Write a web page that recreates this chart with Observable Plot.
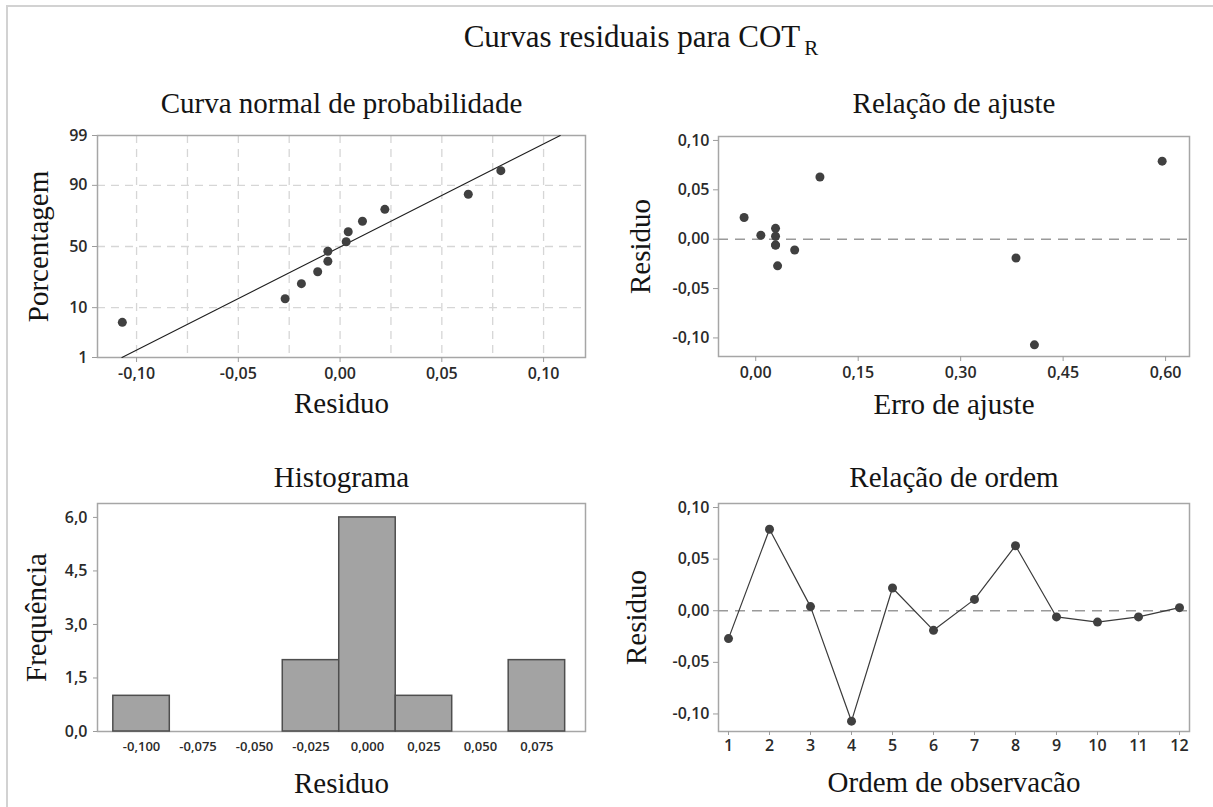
<!DOCTYPE html>
<html>
<head>
<meta charset="utf-8">
<script src="https://cdn.jsdelivr.net/npm/d3@7"></script>
<script src="https://cdn.jsdelivr.net/npm/@observablehq/plot@0.6"></script>
<style>
  body { margin: 0; background: #fff; }
  #page { position: relative; width: 1213px; height: 807px; overflow: hidden; background: #fff; }
  #edge { position: absolute; left: 6px; top: 5px; width: 1300px; height: 900px;
          border-top: 2px solid #d2d2d2; border-left: 2px solid #d2d2d2; }
  #title { position: absolute; left: 641px; top: 19px; transform: translateX(-50%);
           font-family: "Liberation Serif", "Times New Roman", serif; font-size: 31px;
           color: #141414; white-space: nowrap; line-height: 36px; }
  #title sub { font-size: 21px; vertical-align: -8px; margin-left: 4px; }
  .panel { position: absolute; }
  .panel g[aria-label="x-axis tick"], .panel g[aria-label="y-axis tick"] { stroke: #9c9c9c; }
  .panel g[aria-label="x-axis tick label"], .panel g[aria-label="y-axis tick label"] { fill: #2a2a2a; }
  .hist g[aria-label="x-axis tick label"] { font-size: 13px; }
</style>
</head>
<body>
<div id="page">
  <div id="edge"></div>
  <div id="title">Curvas residuais para COT<sub>R</sub></div>
</div>
<script>
// Residuals of the 12 observations, in observation order
const observation = [1, 2, 3, 4, 5, 6, 7, 8, 9, 10, 11, 12];
const residuals = [-0.027, 0.079, 0.004, -0.107, 0.022, -0.019, 0.011, 0.063, -0.006, -0.011, -0.006, 0.003];
// Fitted values ("Erro de ajuste") for the same observations
const fittedValues = [0.032, 0.595, 0.0075, 0.408, -0.017, 0.381, 0.029, 0.094, 0.029, 0.057, 0.029, 0.029];
// Normal probability plotting positions (%) for the sorted residuals
const normalPercent = [5.6, 13.7, 21.8, 29.8, 37.9, 46.0, 54.0, 62.1, 70.2, 78.2, 86.3, 94.4];
// Histogram bins (centres) and counts
const binCenters = [-0.100, -0.075, -0.050, -0.025, 0.000, 0.025, 0.050, 0.075];
const binCounts = [1, 0, 0, 2, 6, 1, 0, 2];
const binWidth = 0.025;
// Tick values
const pctTicks = [1, 10, 50, 90, 99];
const pctGrid = [10, 50, 90];
const normalXTicks = [-0.10, -0.05, 0.00, 0.05, 0.10];
const normalXGrid = [-0.100, -0.075, -0.050, -0.025, 0.000, 0.025, 0.050, 0.075, 0.100];
const residTicks = [-0.10, -0.05, 0.00, 0.05, 0.10];
const fitTicks = [0.00, 0.15, 0.30, 0.45, 0.60];
const freqTicks = [0, 1.5, 3.0, 4.5, 6.0];

const titles = {
  normal: "Curva normal de probabilidade",
  fit: "Relação de ajuste",
  hist: "Histograma",
  order: "Relação de ordem"
};

// Inverse standard normal CDF (Acklam's rational approximation)
function probit(p) {
  const a = [-3.969683028665376e+01, 2.209460984245205e+02, -2.759285104469687e+02, 1.383577518672690e+02, -3.066479806614716e+01, 2.506628277459239e+00];
  const b = [-5.447609879822406e+01, 1.615858368580409e+02, -1.556989798598866e+02, 6.680131188771972e+01, -1.328068155288572e+01];
  const c = [-7.784894002430293e-03, -3.223964580411365e-01, -2.400758277161838e+00, -2.549732539343734e+00, 4.374664141464968e+00, 2.938163982698783e+00];
  const d = [7.784695709041462e-03, 3.224671290700398e-01, 2.445134137142996e+00, 3.754408661907416e+00];
  const pl = 0.02425;
  let q, r;
  if (p < pl) {
    q = Math.sqrt(-2 * Math.log(p));
    return (((((c[0]*q+c[1])*q+c[2])*q+c[3])*q+c[4])*q+c[5]) / ((((d[0]*q+d[1])*q+d[2])*q+d[3])*q+1);
  }
  if (p > 1 - pl) {
    q = Math.sqrt(-2 * Math.log(1 - p));
    return -(((((c[0]*q+c[1])*q+c[2])*q+c[3])*q+c[4])*q+c[5]) / ((((d[0]*q+d[1])*q+d[2])*q+d[3])*q+1);
  }
  q = p - 0.5; r = q * q;
  return (((((a[0]*r+a[1])*r+a[2])*r+a[3])*r+a[4])*r+a[5])*q / (((((b[0]*r+b[1])*r+b[2])*r+b[3])*r+b[4])*r+1);
}

const comma = (d, digits) => (d < 0 ? "-" : "") + Math.abs(d).toFixed(digits).replace(".", ",");

const serif = "'Liberation Serif', 'Times New Roman', serif";
const labelSize = 29;
const textColor = "#141414";
const pointColor = "#404040";
const frameColor = "#a6a6a6";
const baseStyle = { fontFamily: "'Open Sans', 'Noto Sans', sans-serif", fontSize: "16px", fontWeight: 600, background: "transparent" };

function panelText(str, opts) {
  return Plot.text([str], { fontFamily: serif, fontSize: labelSize, fontWeight: "normal", fill: textColor,
    textAnchor: "middle", lineAnchor: "middle", ...opts });
}

function place(svg, left, top, cls) {
  const wrap = document.createElement("div");
  wrap.className = "panel" + (cls ? " " + cls : "");
  wrap.style.left = left + "px";
  wrap.style.top = top + "px";
  wrap.appendChild(svg);
  document.getElementById("page").appendChild(wrap);
}

// ---------- Normal probability plot ----------
const sortedResiduals = d3.sort(residuals);
const normalPoints = sortedResiduals.map((r, i) => ({ r, z: probit(normalPercent[i] / 100) }));
const mu = d3.mean(residuals), sd = d3.deviation(residuals);
const fitLine = [pctTicks[0], pctTicks[pctTicks.length - 1]].map(p => ({ z: probit(p / 100), r: mu + sd * probit(p / 100) }));
const zTicks = pctTicks.map(p => probit(p / 100));

place(Plot.plot({
  width: 606, height: 372,
  marginLeft: 97, marginRight: 21, marginTop: 75, marginBottom: 75,
  style: baseStyle,
  x: { domain: [-0.1192, 0.1206] },
  y: { domain: [zTicks[0], zTicks[zTicks.length - 1]] },
  marks: [
    Plot.ruleX(normalXGrid, { stroke: "#d6d6d6", strokeWidth: 1.3, strokeDasharray: "8,6" }),
    Plot.ruleY(pctGrid.map(p => probit(p / 100)), { stroke: "#d6d6d6", strokeWidth: 1.3, strokeDasharray: "8,6" }),
    Plot.frame({ stroke: frameColor, strokeWidth: 1.5 }),
    Plot.axisX({ ticks: normalXTicks, tickFormat: d => comma(d, 2), tickSize: 5, tickPadding: 5, label: null }),
    Plot.axisY({ ticks: zTicks, tickFormat: (d, i) => String(pctTicks[i]), tickSize: 5, tickPadding: 5, label: null }),
    Plot.line(fitLine, { x: "r", y: "z", stroke: "#1e1e1e", strokeWidth: 1.1 }),
    Plot.dot(normalPoints, { x: "r", y: "z", r: 4.5, fill: pointColor }),
    panelText(titles.normal, { frameAnchor: "top", dy: -32 }),
    panelText("Residuo", { frameAnchor: "bottom", dy: 46 }),
    panelText("Porcentagem", { frameAnchor: "left", dx: -59, rotate: -90 })
  ]
}), 0, 60);

// ---------- Residuals versus fitted values ----------
const fitPoints = residuals.map((r, i) => ({ fit: fittedValues[i], r }));

place(Plot.plot({
  width: 607, height: 372,
  marginLeft: 112, marginRight: 24, marginTop: 76, marginBottom: 76,
  style: baseStyle,
  x: { domain: [-0.0545, 0.635] },
  y: { domain: [-0.1188, 0.104] },
  marks: [
    Plot.frame({ stroke: frameColor, strokeWidth: 1.5 }),
    Plot.ruleY([0], { stroke: "#9a9a9a", strokeWidth: 1.5, strokeDasharray: "10,7" }),
    Plot.axisX({ ticks: fitTicks, tickFormat: d => comma(d, 2), tickSize: 5, tickPadding: 5, label: null }),
    Plot.axisY({ ticks: residTicks, tickFormat: d => comma(d, 2), tickSize: 5, tickPadding: 4, label: null }),
    Plot.dot(fitPoints, { x: "fit", y: "r", r: 4.5, fill: pointColor }),
    panelText(titles.fit, { frameAnchor: "top", dy: -33 }),
    panelText("Erro de ajuste", { frameAnchor: "bottom", dy: 48 }),
    panelText("Residuo", { frameAnchor: "left", dx: -78, rotate: -90 })
  ]
}), 606, 60);

// ---------- Histogram ----------
const bins = binCenters.map((c, i) => ({ x1: c - binWidth / 2, x2: c + binWidth / 2, count: binCounts[i] }));

place(Plot.plot({
  width: 606, height: 377,
  marginLeft: 97, marginRight: 21, marginTop: 73, marginBottom: 76,
  style: baseStyle,
  x: { domain: [-0.1195, 0.0965] },
  y: { domain: [0, 6.39] },
  marks: [
    Plot.frame({ stroke: frameColor, strokeWidth: 1.5 }),
    Plot.rectY(bins, { filter: d => d.count > 0, x1: "x1", x2: "x2", y: "count",
      fill: "#a3a3a3", stroke: "#4e4e4e", strokeWidth: 1.5, inset: 0 }),
    Plot.axisX({ ticks: binCenters, tickFormat: d => comma(d, 3), tickSize: 0, tickPadding: 10, label: null }),
    Plot.axisY({ ticks: freqTicks, tickFormat: d => comma(d, 1), tickSize: 4, tickPadding: 6, label: null }),
    panelText(titles.hist, { frameAnchor: "top", dy: -26 }),
    panelText("Residuo", { frameAnchor: "bottom", dy: 52 }),
    panelText("Frequência", { frameAnchor: "left", dx: -61, rotate: -90 })
  ]
}), 0, 430, "hist");

// ---------- Residuals versus observation order ----------
const orderPoints = residuals.map((r, i) => ({ obs: observation[i], r }));

place(Plot.plot({
  width: 607, height: 377,
  marginLeft: 112, marginRight: 24, marginTop: 73, marginBottom: 76,
  style: baseStyle,
  x: { domain: [0.756, 12.244] },
  y: { domain: [-0.117, 0.1039] },
  marks: [
    Plot.frame({ stroke: frameColor, strokeWidth: 1.5 }),
    Plot.ruleY([0], { stroke: "#9a9a9a", strokeWidth: 1.5, strokeDasharray: "10,7" }),
    Plot.axisX({ ticks: observation, tickFormat: d => String(d), tickSize: 4, tickPadding: 4, label: null }),
    Plot.axisY({ ticks: residTicks, tickFormat: d => comma(d, 2), tickSize: 5, tickPadding: 4, label: null }),
    Plot.line(orderPoints, { x: "obs", y: "r", stroke: "#3a3a3a", strokeWidth: 1.2 }),
    Plot.dot(orderPoints, { x: "obs", y: "r", r: 4.5, fill: pointColor }),
    panelText(titles.order, { frameAnchor: "top", dy: -26 }),
    panelText("Ordem de observacão", { frameAnchor: "bottom", dy: 51 }),
    panelText("Residuo", { frameAnchor: "left", dx: -82, rotate: -90 })
  ]
}), 606, 430);
</script>
</body>
</html>
